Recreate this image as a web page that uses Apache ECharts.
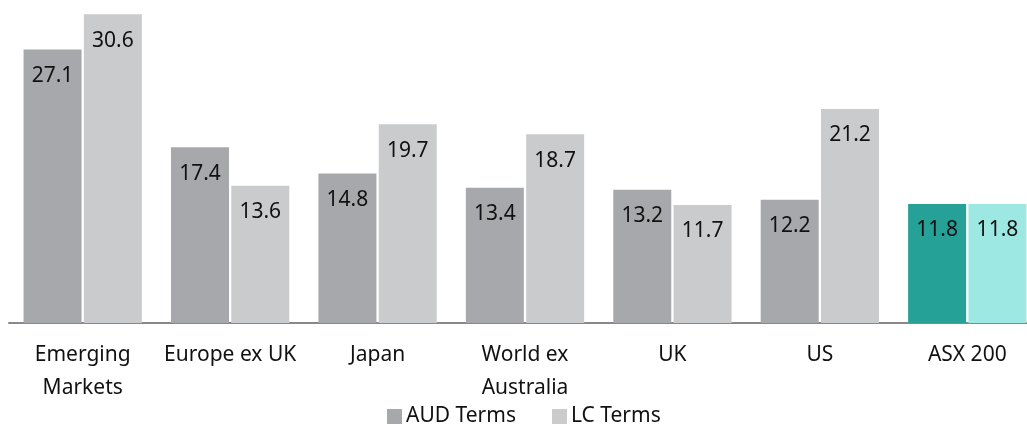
<!DOCTYPE html>
<html><head><meta charset="utf-8">
<script src="https://cdn.jsdelivr.net/npm/echarts@6/dist/echarts.min.js"></script>
<style>html,body{margin:0;padding:0;background:#fff}#c{width:1027px;height:425px}</style>
</head><body><div id="c"></div>
<script>
const categories = ['Emerging\nMarkets', 'Europe ex UK', 'Japan', 'World ex\nAustralia', 'UK', 'US', 'ASX 200'];
const audTerms = [27.1, 17.4, 14.8, 13.4, 13.2, 12.2, 11.8];
const lcTerms = [30.6, 13.6, 19.7, 18.7, 11.7, 21.2, 11.8];
const seriesNames = ['AUD Terms', 'LC Terms'];

const FONT = 'Noto Sans';
const audColor = '#a7a8ab', lcColor = '#cacbcd';
const asxAud = '#26a197', asxLc = '#9de8e2';

function mk(vals, base, special) {
  return vals.map((v, i) => ({
    value: v,
    itemStyle: { color: i === vals.length - 1 ? special : base }
  }));
}
const labelCfg = { show: true, position: 'insideTop', distance: 16, color: '#111', fontFamily: FONT, fontSize: 21, formatter: p => p.value.toFixed(1) };

const chart = echarts.init(document.getElementById('c'), null, { renderer: 'canvas' });
chart.setOption({
  animation: false,
  textStyle: { fontFamily: FONT },
  grid: { left: 9, top: 0, width: 1032, height: 323, containLabel: false, outerBoundsMode: 'none' },
  legend: {
    bottom: -2, left: 387, padding: 0, itemWidth: 15, itemHeight: 15, itemGap: 36,
    icon: 'rect',
    textStyle: { fontFamily: FONT, fontSize: 21, color: '#111', padding: [0, 0, 0, -1] },
    data: [{ name: seriesNames[0], itemStyle: { color: audColor } }, { name: seriesNames[1], itemStyle: { color: lcColor } }]
  },
  xAxis: {
    type: 'category', data: categories,
    axisLine: { lineStyle: { color: '#888', width: 2 } },
    axisTick: { show: false },
    axisLabel: { fontFamily: FONT, fontSize: 21, color: '#111', margin: 16, lineHeight: 33, interval: 0 }
  },
  yAxis: { type: 'value', min: 0, max: 32, show: false, splitLine: { show: false } },
  series: [
    { name: seriesNames[0], type: 'bar', barWidth: 58, barGap: '4%', data: mk(audTerms, audColor, asxAud), label: labelCfg },
    { name: seriesNames[1], type: 'bar', barWidth: 58, data: mk(lcTerms, lcColor, asxLc), label: labelCfg }
  ]
});
</script></body></html>
